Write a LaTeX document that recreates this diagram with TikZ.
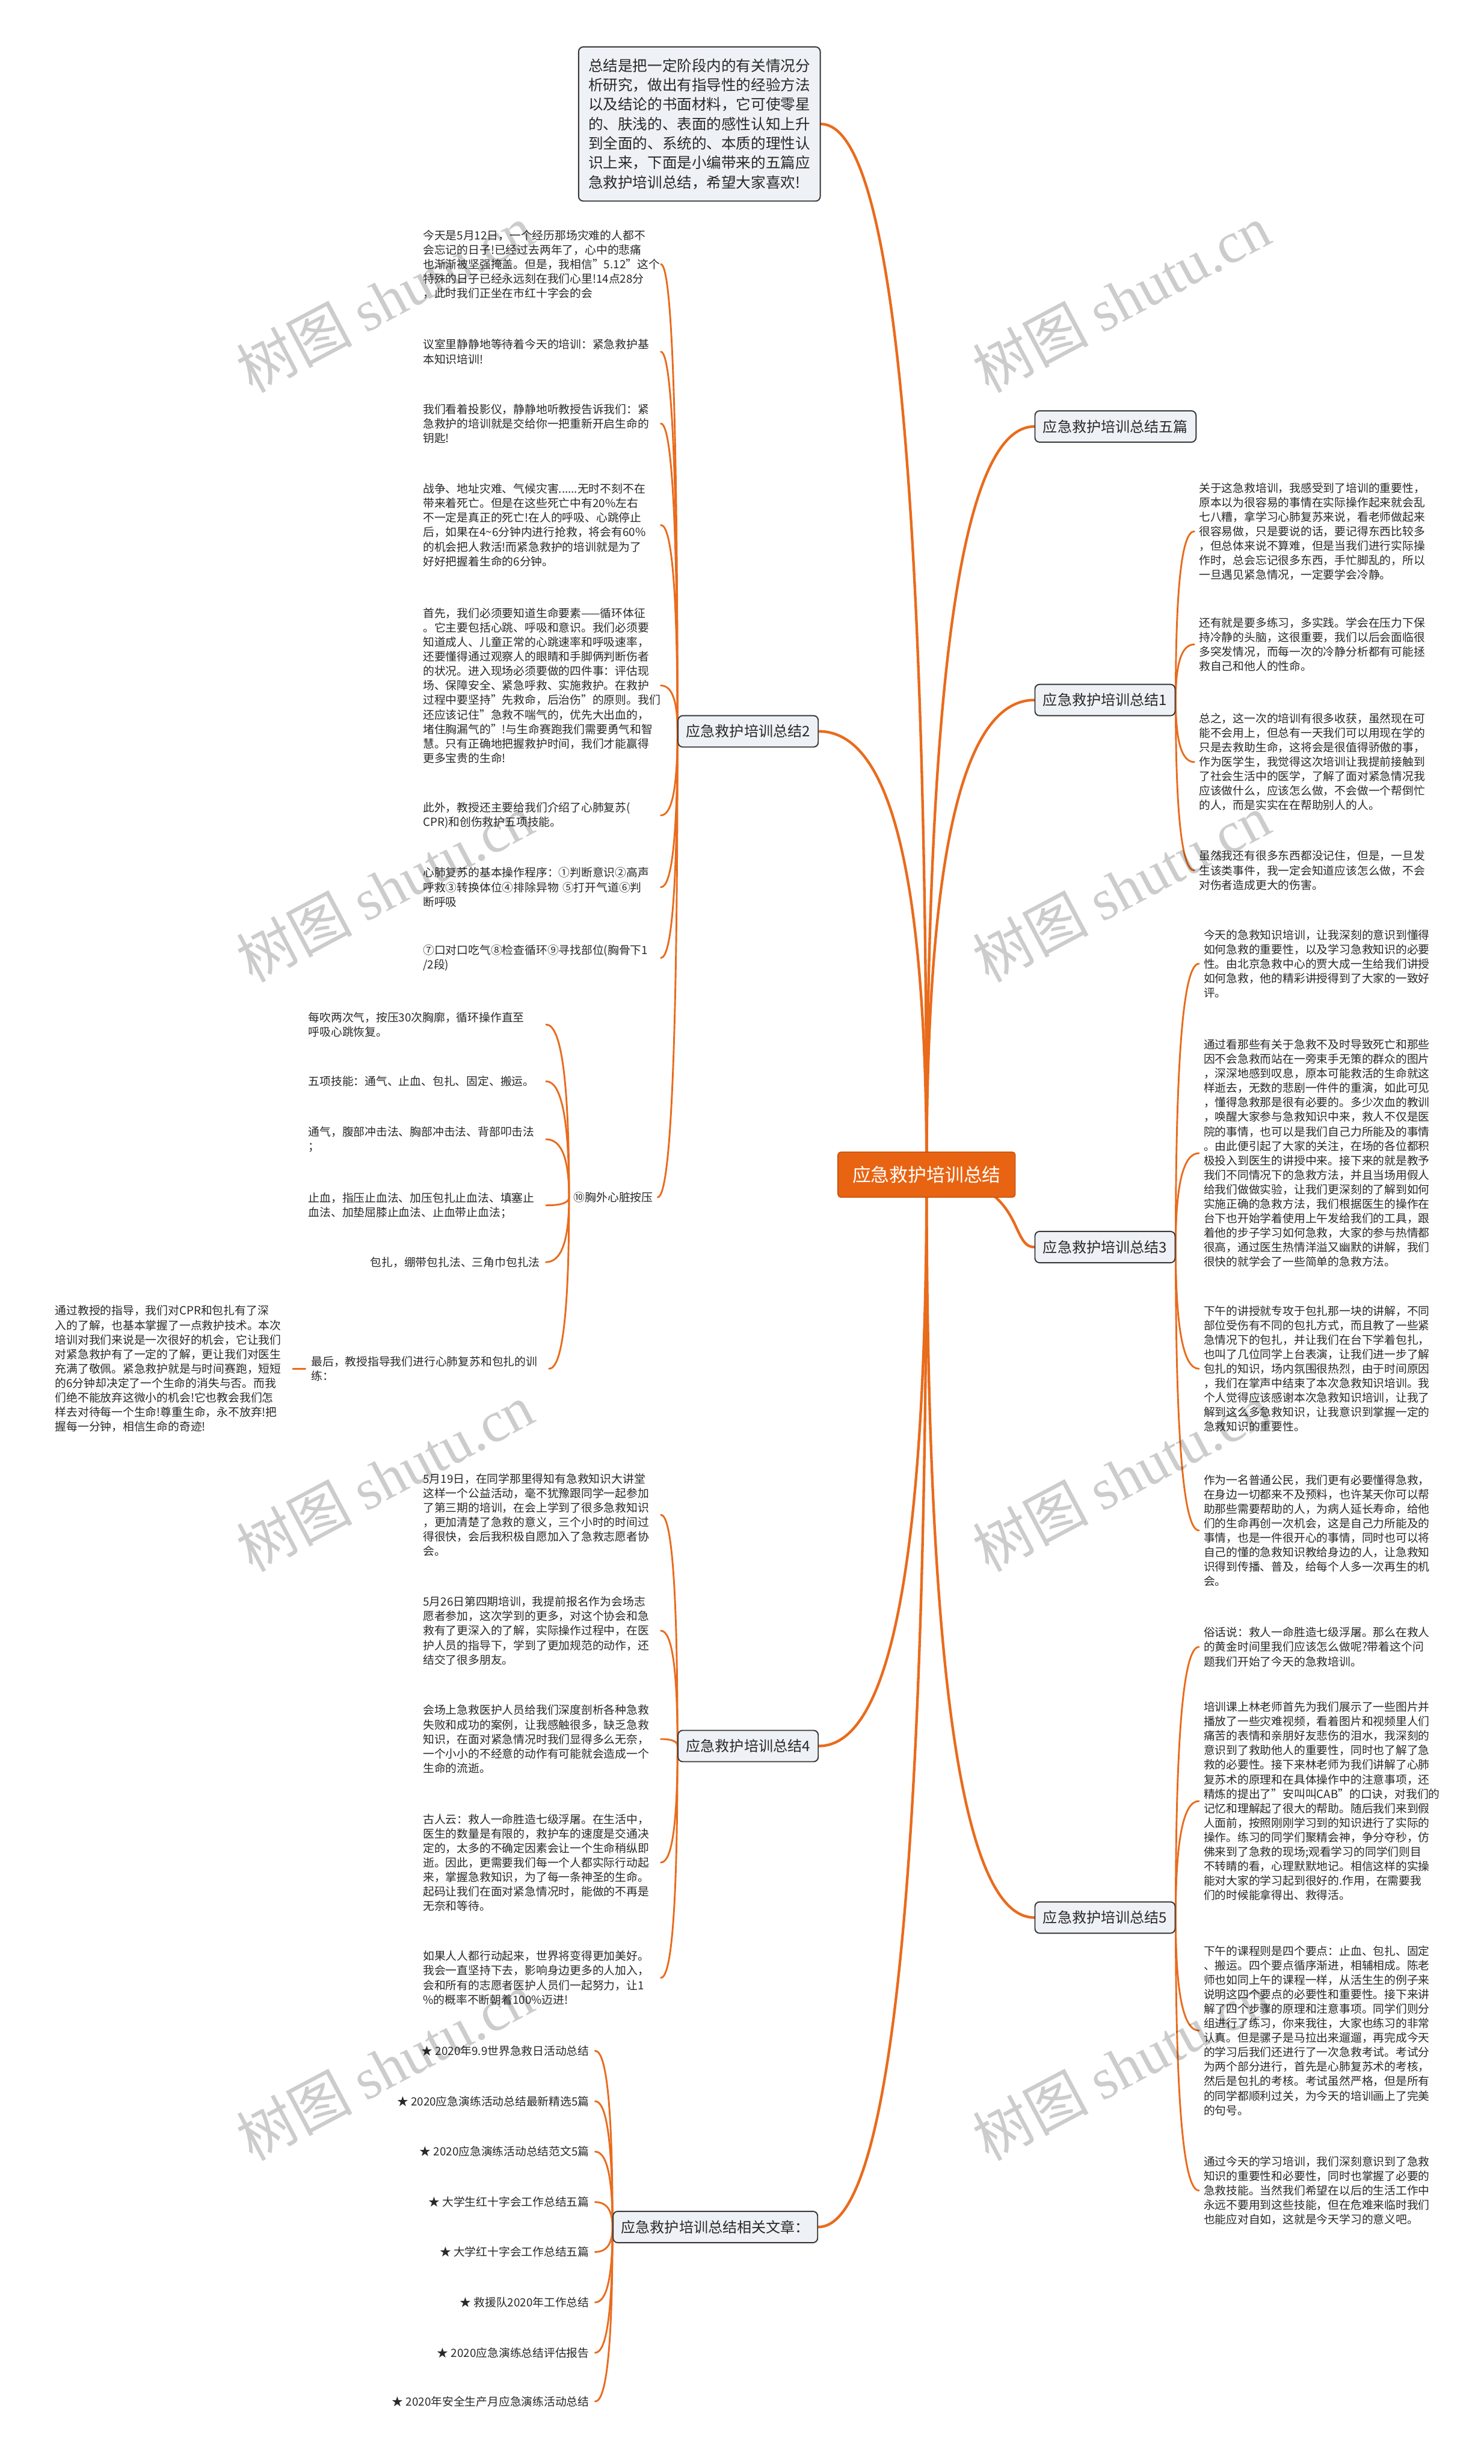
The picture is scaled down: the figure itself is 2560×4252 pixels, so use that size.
\documentclass[tikz,border=0pt]{standalone}
\usepackage{fontspec}
\setmainfont{Noto Sans CJK SC}
\newfontfamily\wmfont{Liberation Serif}
\usetikzlibrary{calc}
\pgfdeclarelayer{bg}
\pgfsetlayers{bg,main}
\definecolor{orangeline}{RGB}{233,107,28}
\definecolor{rootfill}{RGB}{232,100,18}
\definecolor{rootdraw}{RGB}{196,78,10}
\definecolor{boxfill}{RGB}{238,242,246}
\definecolor{boxdraw}{RGB}{55,55,55}
\definecolor{txtcol}{RGB}{40,40,40}
\newcommand{\mlink}[3]{\draw[#1] (#2) .. controls ($(#2)!0.67!(#2|-#3)$) and ($(#3)!0.67!(#2|-#3)$) .. (#3);}
\tikzset{
 conn0/.style={draw=orangeline, line width=4.5pt, line cap=round},
 conn1/.style={draw=orangeline, line width=3pt, line cap=round},
 txt/.style={font=\fontsize{19.5}{25}\selectfont, text=txtcol, inner ysep=0pt, align=left},
 ltxt/.style={txt, anchor=west, text width=400pt, inner xsep=10pt},
 rtxt/.style={txt, anchor=west, text width=400pt, inner xsep=8pt},
 lone/.style={txt, anchor=east, inner xsep=10pt},
 lvl/.style={draw=boxdraw, line width=2pt, fill=boxfill, rounded corners=8pt, font=\fontsize{25}{30}\selectfont, text=txtcol, inner xsep=14pt, minimum height=54pt},
 notebox/.style={lvl, font=\fontsize{25.5}{33.5}\selectfont, text width=383pt, align=left, inner xsep=17pt, minimum height=266pt},
 rootbox/.style={fill=rootfill, draw=rootdraw, line width=1.5pt, rounded corners=5pt, font=\fontsize{32}{38}\selectfont, text=white, inner xsep=25pt, minimum height=78pt},
 wm/.style={text=black, opacity=0.2, rotate=28, font=\fontsize{100}{110}\selectfont}
}
\begin{document}
\begin{tikzpicture}[x=1pt,y=-1pt]
\useasboundingbox (0,0) rectangle (2560,4252);
% main nodes
\node[rootbox] (root) at (1599,2027) {应急救护培训总结};
\node[notebox] (note) at (1207,214) {总结是把一定阶段内的有关情况分\\析研究，做出有指导性的经验方法\\以及结论的书面材料，它可使零星\\的、肤浅的、表面的感性认知上升\\到全面的、系统的、本质的理性认\\识上来，下面是小编带来的五篇应\\急救护培训总结，希望大家喜欢!};
\node[lvl, anchor=west] (R0) at (1785,736) {应急救护培训总结五篇};
\node[lvl, anchor=west] (R1) at (1785,1208) {应急救护培训总结1};
\node[lvl, anchor=west] (R3) at (1785,2152) {应急救护培训总结3};
\node[lvl, anchor=west] (R5) at (1785,3309) {应急救护培训总结5};
\node[lvl, anchor=east] (L2) at (1413,1262) {应急救护培训总结2};
\node[lvl, anchor=east] (L4) at (1413,3013) {应急救护培训总结4};
\node[lvl, anchor=east] (Rel) at (1412,3843) {应急救护培训总结相关文章：};

% L2 children
\node[ltxt] (l2a) at (720,456) {今天是5月12日，一个经历那场灾难的人都不\\会忘记的日子!已经过去两年了，心中的悲痛\\也渐渐被坚强掩盖。但是，我相信"5.12"这个\\特殊的日子已经永远刻在我们心里!14点28分\\，此时我们正坐在市红十字会的会};
\node[ltxt] (l2b) at (720,607) {议室里静静地等待着今天的培训：紧急救护基\\本知识培训!};
\node[ltxt] (l2c) at (720,731) {我们看着投影仪，静静地听教授告诉我们：紧\\急救护的培训就是交给你一把重新开启生命的\\钥匙!};
\node[ltxt] (l2d) at (720,906) {战争、地址灾难、气候灾害......无时不刻不在\\带来着死亡。但是在这些死亡中有20\%左右\\不一定是真正的死亡!在人的呼吸、心跳停止\\后，如果在4\textasciitilde 6分钟内进行抢救，将会有60\%\\的机会把人救活!而紧急救护的培训就是为了\\好好把握着生命的6分钟。};
\node[ltxt] (l2e) at (720,1183) {首先，我们必须要知道生命要素——循环体征\\。它主要包括心跳、呼吸和意识。我们必须要\\知道成人、儿童正常的心跳速率和呼吸速率，\\还要懂得通过观察人的眼睛和手脚俩判断伤者\\的状况。进入现场必须要做的四件事：评估现\\场、保障安全、紧急呼救、实施救护。在救护\\过程中要坚持"先救命，后治伤"的原则。我们\\还应该记住"急救不喘气的，优先大出血的，\\堵住胸漏气的"!与生命赛跑我们需要勇气和智\\慧。只有正确地把握救护时间，我们才能赢得\\更多宝贵的生命!};
\node[ltxt] (l2f) at (720,1407) {此外，教授还主要给我们介绍了心肺复苏(\\CPR)和创伤救护五项技能。};
\node[ltxt] (l2g) at (720,1531) {心肺复苏的基本操作程序：①判断意识②高声\\呼救③转换体位④排除异物 ⑤打开气道⑥判\\断呼吸};
\node[ltxt] (l2h) at (720,1653) {⑦口对口吃气⑧检查循环⑨寻找部位(胸骨下1\\/2段)};
\node[txt, anchor=west, inner xsep=8pt] (l2i) at (982,2066) {⑩胸外心脏按压};
% children of 10
\node[ltxt] (i1) at (522,1768) {每吹两次气，按压30次胸廓，循环操作直至\\呼吸心跳恢复。};
\node[ltxt] (i2) at (522,1866) {五项技能：通气、止血、包扎、固定、搬运。};
\node[ltxt] (i3) at (522,1966) {通气，腹部冲击法、胸部冲击法、背部叩击法\\；};
\node[ltxt] (i4) at (522,2080) {止血，指压止血法、加压包扎止血法、填塞止\\血法、加垫屈膝止血法、止血带止血法；};
\node[lone] (i5) at (942,2178) {包扎，绷带包扎法、三角巾包扎法};
\node[ltxt] (i6) at (527,2362) {最后，教授指导我们进行心肺复苏和包扎的训\\练：};
\node[ltxt] (j1) at (85,2362) {通过教授的指导，我们对CPR和包扎有了深\\入的了解，也基本掌握了一点救护技术。本次\\培训对我们来说是一次很好的机会，它让我们\\对紧急救护有了一定的了解，更让我们对医生\\充满了敬佩。紧急救护就是与时间赛跑，短短\\的6分钟却决定了一个生命的消失与否。而我\\们绝不能放弃这微小的机会!它也教会我们怎\\样去对待每一个生命!尊重生命，永不放弃!把\\握每一分钟，相信生命的奇迹!};

% L4 children
\node[ltxt] (l4a) at (720,2614) {5月19日，在同学那里得知有急救知识大讲堂\\这样一个公益活动，毫不犹豫跟同学一起参加\\了第三期的培训，在会上学到了很多急救知识\\，更加清楚了急救的意义，三个小时的时间过\\得很快，会后我积极自愿加入了急救志愿者协\\会。};
\node[ltxt] (l4b) at (720,2814) {5月26日第四期培训，我提前报名作为会场志\\愿者参加，这次学到的更多，对这个协会和急\\救有了更深入的了解，实际操作过程中，在医\\护人员的指导下，学到了更加规范的动作，还\\结交了很多朋友。};
\node[ltxt] (l4c) at (720,3001) {会场上急救医护人员给我们深度剖析各种急救\\失败和成功的案例，让我感触很多，缺乏急救\\知识，在面对紧急情况时我们显得多么无奈，\\一个小小的不经意的动作有可能就会造成一个\\生命的流逝。};
\node[ltxt] (l4d) at (720,3214) {古人云：救人一命胜造七级浮屠。在生活中，\\医生的数量是有限的，救护车的速度是交通决\\定的，太多的不确定因素会让一个生命稍纵即\\逝。因此，更需要我们每一个人都实际行动起\\来，掌握急救知识，为了每一条神圣的生命。\\起码让我们在面对紧急情况时，能做的不再是\\无奈和等待。};
\node[ltxt] (l4e) at (720,3413) {如果人人都行动起来，世界将变得更加美好。\\我会一直坚持下去，影响身边更多的人加入，\\会和所有的志愿者医护人员们一起努力，让1\\\%的概率不断朝着100\%迈进!};

% related articles
\node[lone] (ra1) at (1027,3539) {★ 2020年9.9世界急救日活动总结};
\node[lone] (ra2) at (1027,3626) {★ 2020应急演练活动总结最新精选5篇};
\node[lone] (ra3) at (1027,3713) {★ 2020应急演练活动总结范文5篇};
\node[lone] (ra4) at (1027,3800) {★ 大学生红十字会工作总结五篇};
\node[lone] (ra5) at (1027,3886) {★ 大学红十字会工作总结五篇};
\node[lone] (ra6) at (1027,3973) {★ 救援队2020年工作总结};
\node[lone] (ra7) at (1027,4060) {★ 2020应急演练总结评估报告};
\node[lone] (ra8) at (1027,4144) {★ 2020年安全生产月应急演练活动总结};

% R1 children
\node[rtxt] (r1a) at (2061,917) {关于这急救培训，我感受到了培训的重要性，\\原本以为很容易的事情在实际操作起来就会乱\\七八糟，拿学习心肺复苏来说，看老师做起来\\很容易做，只是要说的话，要记得东西比较多\\，但总体来说不算难，但是当我们进行实际操\\作时，总会忘记很多东西，手忙脚乱的，所以\\一旦遇见紧急情况，一定要学会冷静。};
\node[rtxt] (r1b) at (2061,1112) {还有就是要多练习，多实践。学会在压力下保\\持冷静的头脑，这很重要，我们以后会面临很\\多突发情况，而每一次的冷静分析都有可能拯\\救自己和他人的性命。};
\node[rtxt] (r1c) at (2061,1315) {总之，这一次的培训有很多收获，虽然现在可\\能不会用上，但总有一天我们可以用现在学的\\只是去救助生命，这将会是很值得骄傲的事，\\作为医学生，我觉得这次培训让我提前接触到\\了社会生活中的医学，了解了面对紧急情况我\\应该做什么，应该怎么做，不会做一个帮倒忙\\的人，而是实实在在帮助别人的人。};
\node[rtxt] (r1d) at (2061,1502) {虽然我还有很多东西都没记住，但是，一旦发\\生该类事件，我一定会知道应该怎么做，不会\\对伤者造成更大的伤害。};

% R3 children
\node[rtxt] (r3a) at (2069,1663) {今天的急救知识培训，让我深刻的意识到懂得\\如何急救的重要性，以及学习急救知识的必要\\性。由北京急救中心的贾大成一生给我们讲授\\如何急救，他的精彩讲授得到了大家的一致好\\评。};
\node[rtxt] (r3b) at (2069,1990) {通过看那些有关于急救不及时导致死亡和那些\\因不会急救而站在一旁束手无策的群众的图片\\，深深地感到叹息，原本可能救活的生命就这\\样逝去，无数的悲剧一件件的重演，如此可见\\，懂得急救那是很有必要的。多少次血的教训\\，唤醒大家参与急救知识中来，救人不仅是医\\院的事情，也可以是我们自己力所能及的事情\\。由此便引起了大家的关注，在场的各位都积\\极投入到医生的讲授中来。接下来的就是教予\\我们不同情况下的急救方法，并且当场用假人\\给我们做做实验，让我们更深刻的了解到如何\\实施正确的急救方法，我们根据医生的操作在\\台下也开始学着使用上午发给我们的工具，跟\\着他的步子学习如何急救，大家的参与热情都\\很高，通过医生热情洋溢又幽默的讲解，我们\\很快的就学会了一些简单的急救方法。};
\node[rtxt] (r3c) at (2069,2362) {下午的讲授就专攻于包扎那一块的讲解，不同\\部位受伤有不同的包扎方式，而且教了一些紧\\急情况下的包扎，并让我们在台下学着包扎，\\也叫了几位同学上台表演，让我们进一步了解\\包扎的知识，场内氛围很热烈，由于时间原因\\，我们在掌声中结束了本次急救知识培训。我\\个人觉得应该感谢本次急救知识培训，让我了\\解到这么多急救知识，让我意识到掌握一定的\\急救知识的重要性。};
\node[rtxt] (r3d) at (2069,2641) {作为一名普通公民，我们更有必要懂得急救，\\在身边一切都来不及预料，也许某天你可以帮\\助那些需要帮助的人，为病人延长寿命，给他\\们的生命再创一次机会，这是自己力所能及的\\事情，也是一件很开心的事情，同时也可以将\\自己的懂的急救知识教给身边的人，让急救知\\识得到传播、普及，给每个人多一次再生的机\\会。};

% R5 children
\node[rtxt] (r5a) at (2069,2842) {俗话说：救人一命胜造七级浮屠。那么在救人\\的黄金时间里我们应该怎么做呢?带着这个问\\题我们开始了今天的急救培训。};
\node[rtxt] (r5b) at (2069,3108) {培训课上林老师首先为我们展示了一些图片并\\播放了一些灾难视频，看着图片和视频里人们\\痛苦的表情和亲朋好友悲伤的泪水，我深刻的\\意识到了救助他人的重要性，同时也了解了急\\救的必要性。接下来林老师为我们讲解了心肺\\复苏术的原理和在具体操作中的注意事项，还\\精炼的提出了"安叫叫CAB"的口诀，对我们的\\记忆和理解起了很大的帮助。随后我们来到假\\人面前，按照刚刚学习到的知识进行了实际的\\操作。练习的同学们聚精会神，争分夺秒，仿\\佛来到了急救的现场;观看学习的同学们则目\\不转睛的看，心理默默地记。相信这样的实操\\能对大家的学习起到很好的.作用，在需要我\\们的时候能拿得出、救得活。};
\node[rtxt] (r5c) at (2069,3504) {下午的课程则是四个要点：止血、包扎、固定\\、搬运。四个要点循序渐进，相辅相成。陈老\\师也如同上午的课程一样，从活生生的例子来\\说明这四个要点的必要性和重要性。接下来讲\\解了四个步骤的原理和注意事项。同学们则分\\组进行了练习，你来我往，大家也练习的非常\\认真。但是骡子是马拉出来遛遛，再完成今天\\的学习后我们还进行了一次急救考试。考试分\\为两个部分进行，首先是心肺复苏术的考核，\\然后是包扎的考核。考试虽然严格，但是所有\\的同学都顺利过关，为今天的培训画上了完美\\的句号。};
\node[rtxt] (r5d) at (2069,3780) {通过今天的学习培训，我们深刻意识到了急救\\知识的重要性和必要性，同时也掌握了必要的\\急救技能。当然我们希望在以后的生活工作中\\永远不要用到这些技能，但在危难来临时我们\\也能应对自如，这就是今天学习的意义吧。};

% connectors
\begin{pgfonlayer}{bg}
\fill[white] (0,0) rectangle (2560,4252);
\mlink{conn0}{root.center}{note.east}
\mlink{conn0}{root.center}{R0.west}
\mlink{conn0}{root.center}{R1.west}
\draw[conn0] (root.center) .. controls ($(root.east)+(20,8)$) and ($(R3.west)+(-45,0)$) .. (R3.west);
\mlink{conn0}{root.center}{R5.west}
\mlink{conn0}{root.center}{L2.east}
\mlink{conn0}{root.center}{L4.east}
\mlink{conn0}{root.center}{Rel.east}
\foreach \c in {l2a,l2b,l2c,l2d,l2e,l2f,l2g,l2h,l2i}{\mlink{conn1}{L2.west}{\c.east}}
\foreach \c in {i1,i2,i3,i4,i5,i6}{\mlink{conn1}{l2i.west}{\c.east}}
\mlink{conn1}{i6.west}{j1.east}
\foreach \c in {l4a,l4b,l4c,l4d,l4e}{\mlink{conn1}{L4.west}{\c.east}}
\foreach \c in {ra1,ra2,ra3,ra4,ra5,ra6,ra7,ra8}{\mlink{conn1}{Rel.west}{\c.east}}
\foreach \c in {r1a,r1b,r1c,r1d}{\mlink{conn1}{R1.east}{\c.west}}
\foreach \c in {r3a,r3b,r3c,r3d}{\mlink{conn1}{R3.east}{\c.west}}
\foreach \c in {r5a,r5b,r5c,r5d}{\mlink{conn1}{R5.east}{\c.west}}
\end{pgfonlayer}

% watermarks
\foreach \wy [count=\k] in {515,1532,2549,3566}{
 \node[wm] (wml\k) at (664,\wy) {树图 {\wmfont shutu.cn}};
 \node[wm] (wmr\k) at (1935,\wy) {树图 {\wmfont shutu.cn}};
}
\end{tikzpicture}
\end{document}
